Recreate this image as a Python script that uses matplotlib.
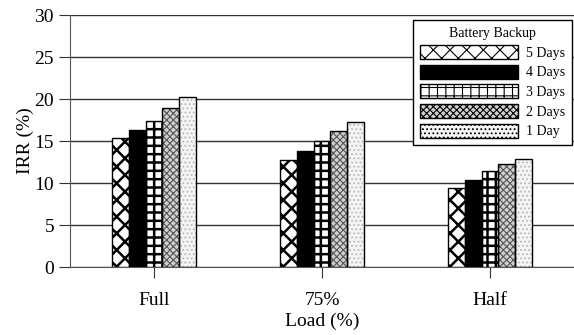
import matplotlib.pyplot as plt
import numpy as np

loads = ["Full", "75%", "Half"]
series = ["5 Days", "4 Days", "3 Days", "2 Days", "1 Day"]
irr_5days = [15.4, 12.7, 9.4]
irr_4days = [16.3, 13.8, 10.4]
irr_3days = [17.4, 15.0, 11.4]
irr_2days = [18.9, 16.2, 12.3]
irr_1day = [20.2, 17.3, 12.9]
values = [irr_5days, irr_4days, irr_3days, irr_2days, irr_1day]

# (facecolor, hatch, hatch colour)
styles = [
    ("white", "xx", "black"),
    ("black", "", "black"),
    ("white", "++", "black"),
    ("#d0d0d0", "xxxxx", "#555555"),
    ("#f4f4f4", "....", "#b8b8b8"),
]

plt.rcParams["font.family"] = ["Liberation Serif", "DejaVu Serif"]
plt.rcParams["hatch.linewidth"] = 1.6

fig = plt.figure(figsize=(5.74, 3.35), dpi=100)
ax = fig.add_axes([70 / 574, 1 - 267 / 335, 504 / 574, 252 / 335])

x = np.arange(len(loads))
w = 0.1
handles = []
for i, (vals, (fc, hatch, hc)) in enumerate(zip(values, styles)):
    pos = x + (i - 2) * w
    plt.rcParams["hatch.linewidth"] = 0.8 if i >= 3 else 1.8
    ax.bar(pos, vals, w, color=fc, hatch=hatch, edgecolor=hc, linewidth=0, zorder=2)
    ax.bar(pos, vals, w, fill=False, edgecolor="black", linewidth=1.0, zorder=3)
    h = plt.Rectangle((0, 0), 1, 1, facecolor=fc, hatch=hatch, edgecolor="black", linewidth=1.0)
    handles.append(h)

ax.set_xlim(-0.5, 2.5)
ax.set_ylim(0, 30)
ax.set_yticks(range(0, 31, 5))
ax.set_xticks(x)
ax.set_xticklabels(loads)
ax.yaxis.grid(True, color="#333333", linewidth=1.0, zorder=0)
ax.set_axisbelow(True)
for s in ["top", "right"]:
    ax.spines[s].set_visible(False)
ax.spines["left"].set_color("#555555")
ax.spines["bottom"].set_color("#555555")
ax.tick_params(axis="both", labelsize=14, direction="out", length=8, color="#333333")
ax.tick_params(axis="x", pad=10)
ax.set_ylabel("IRR (%)", fontsize=14, labelpad=0)
ax.set_xlabel("Load (%)", fontsize=14, labelpad=3)

leg = ax.legend(handles, series, title="Battery Backup", loc="upper right",
                bbox_to_anchor=(0.996, 0.98), borderaxespad=0, fontsize=10,
                title_fontsize=10, handlelength=7.0, handleheight=1.2,
                labelspacing=0.35, handletextpad=0.6, borderpad=0.5,
                fancybox=False, edgecolor="black", framealpha=1)
leg.get_frame().set_linewidth(1.0)

fig.savefig("out.png", dpi=100)
